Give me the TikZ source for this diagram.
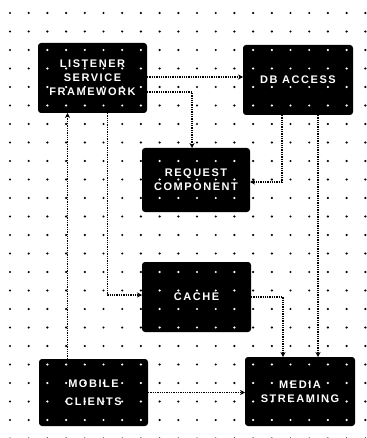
\documentclass[tikz,border=0pt]{standalone}
\usepackage{fontspec}
\setmainfont{Liberation Sans}
\usetikzlibrary{arrows.meta}
\tikzset{
  box/.style={fill=black, rounded corners=3pt, minimum width=109pt, minimum height=70pt,
    inner sep=0pt, outer sep=0pt, text=white, align=center,
    font=\fontsize{11}{14}\selectfont\bfseries\addfontfeatures{LetterSpace=14}},
  conn/.style={draw=black, line width=1.3pt, densely dotted, -{Stealth[length=5pt,width=5pt]}},
}
\begin{document}
\begin{tikzpicture}[x=1pt,y=-1pt]
\useasboundingbox (0,0) rectangle (366,438);
\fill[white] (0,0) rectangle (366,438);
% dot grid
\foreach \i in {0,...,19}{\foreach \j in {0,...,23}{\fill[black] (10+18.7*\i,13+18.5*\j) circle (1.2pt);}}
% boxes
\node[box] (A) at (92.5,78) {LISTENER\\SERVICE\\FRAMEWORK};
\node[box, minimum width=110pt] (B) at (298,80) {DB ACCESS};
\node[box, minimum width=108pt, minimum height=64pt] (C) at (196,180) {REQUEST\\COMPONENT};
\node[box] (D) at (196.5,297) {CACHE};
\node[box, minimum height=67pt, font=\fontsize{11}{18}\selectfont\bfseries\addfontfeatures{LetterSpace=14}] (E) at (93.5,392.5) {MOBILE\\CLIENTS};
\node[box, minimum width=110pt, minimum height=69pt] (F) at (300,391.5) {MEDIA\\STREAMING};
% white grid dots showing through boxes
\begin{scope}
\clip (A.south west) rectangle (A.north east) (B.south west) rectangle (B.north east)
      (C.south west) rectangle (C.north east) (D.south west) rectangle (D.north east)
      (E.south west) rectangle (E.north east) (F.south west) rectangle (F.north east);
\foreach \i in {0,...,19}{\foreach \j in {0,...,23}{\fill[white] (10+18.7*\i,13+18.5*\j) circle (1.2pt);}}
\end{scope}
% connectors
\draw[conn] ([yshift=1pt]A.east) -- ([yshift=1pt]A.east -| B.west);
\draw[conn] ([yshift=-14pt]A.east) -| ([xshift=-4pt]C.north);
\draw[conn] ([xshift=-16pt]B.south) |- ([yshift=-2pt]C.east);
\draw[conn] ([xshift=20pt]B.south) -- ([xshift=20pt]B.south |- F.north);
\draw[conn] ([xshift=15pt]A.south) |- ([yshift=2pt]D.west);
\draw[conn] ([xshift=-26pt]E.north) -- ([xshift=-26pt]E.north |- A.south);
\draw[conn] (D.east) -| ([xshift=-17pt]F.north);
\draw[conn] (E.east) -- (E.east -| F.west);
\end{tikzpicture}
\end{document}
